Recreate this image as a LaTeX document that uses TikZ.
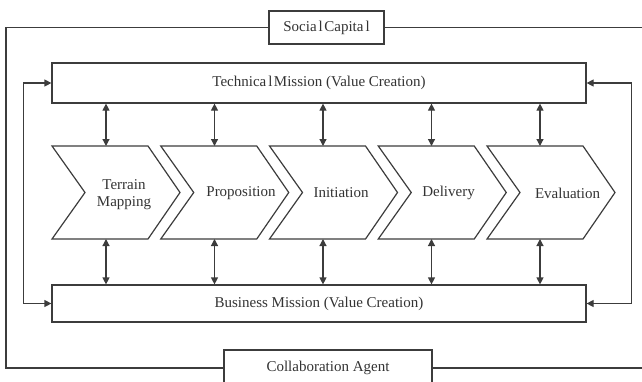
\documentclass[tikz,border=0pt]{standalone}
\usepackage{fontspec}
\setmainfont{Liberation Serif}
\usetikzlibrary{arrows.meta}
\definecolor{ln}{HTML}{3C3C3C}
\definecolor{tx}{HTML}{333333}
\begin{document}
\begin{tikzpicture}[x=1pt,y=-1pt,line width=1.2pt,draw=ln,
  box/.style={draw=ln,line width=1.2pt,inner sep=0pt,text=tx,fill=white,
    font=\fontsize{15}{17}\selectfont},
  lbl/.style={text=tx,inner sep=0pt,align=center,font=\fontsize{15}{17}\selectfont},
  arr/.style={{Triangle[length=7pt,width=7pt]}-{Triangle[length=7pt,width=7pt]}},
  chev/.style={draw=ln,line width=1.2pt,line join=miter}]
\useasboundingbox (0,0) rectangle (642,381);
\clip (0,0) rectangle (642,381);
% boxes
\node[box,minimum width=115pt,minimum height=33pt] (soc) at (326.5,27.5)
  {Socia\kern2pt l\kern1.5pt Capita\kern2pt l};
\node[box,minimum width=208pt,minimum height=36pt] (col) at (328,368)
  {Collaboration Agent};
\node[box,minimum width=534pt,minimum height=40pt] (tech) at (319,83)
  {Technica\kern2pt l\kern1.5pt Mission (Value Creation)};
\node[box,minimum width=534pt,minimum height=37pt] (bus) at (319,303.5)
  {Business Mission (Value Creation)};
% outer frame
\draw (soc.west) -| (6,368) -- (col.west);
\draw (soc.east) -| (652,368) -- (col.east);
% inner loops
\draw[arr] (tech.west) -- ++(-28,0) |- (bus.west);
\draw[arr] (tech.east) -- ++(44.5,0) |- (bus.east);
% chevrons
\foreach \i in {0,...,4}{
  \pgfmathsetmacro{\xx}{52+108.75*\i}
  \draw[chev] (\xx,146) -- ++(96,0) -- ++(32,46.5) -- ++(-32,46.5)
     -- ++(-96,0) -- ++(33,-46.5) -- cycle;
  \pgfmathsetmacro{\ax}{106+108.5*\i}
  \coordinate (t\i) at (\ax,146);
  \coordinate (b\i) at (\ax,239);
  \draw[arr] (tech.south -| t\i) -- (t\i);
  \draw[arr] (b\i) -- (bus.north -| b\i);
}
% labels
\node[lbl] (n1) at (124,194.5) {Terrain\\Mapping};
\node[lbl] (n2) at (241,193) {Proposition};
\node[lbl] (n3) at (341,193) {Initiation};
\node[lbl] (n4) at (448.5,193) {Delivery};
\node[lbl] (n5) at (567.5,193) {Evaluation};
\end{tikzpicture}
\end{document}
